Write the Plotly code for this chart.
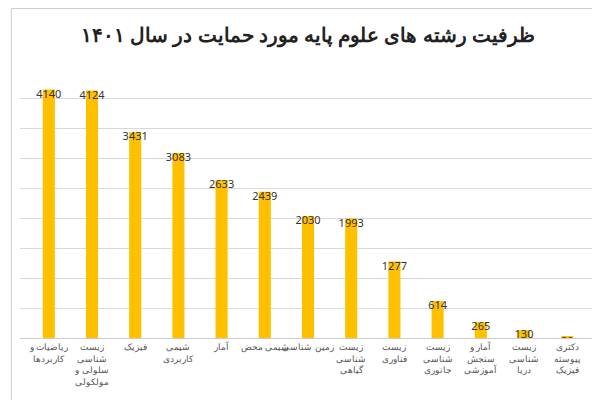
import plotly.graph_objects as go

# 13 bars; "زمین شناسی" and "شیمی محض" sit under neighbouring bars
fields = [
    "ریاضیات و<br>کاربردها",
    "زیست<br>شناسی<br>سلولی و<br>مولکولی",
    "فیزیک",
    "شیمی<br>کاربردی",
    "آمار",
    "شیمی محض",
    "زمین شناسی",
    "زیست<br>شناسی<br>گیاهی",
    "زیست<br>فناوری",
    "زیست<br>شناسی<br>جانوری",
    "آمار و<br>سنجش<br>آموزشی",
    "زیست<br>شناسی<br>دریا",
    "دکتری<br>پیوسته<br>فیزیک",
]
capacity = [4140, 4124, 3431, 3083, 2633, 2439, 2030, 1993, 1277, 614, 265, 130, 20]

fig = go.Figure()
fig.add_bar(
    x=fields, y=capacity,
    marker=dict(color="#FFC000", line=dict(width=0)),
    width=0.28, hoverinfo="x+y",
)
# value labels, horizontal, just under the bar top
fig.add_scatter(
    x=fields, y=capacity, mode="text", text=capacity,
    textposition="bottom center",
    textfont=dict(color="#333", size=11), hoverinfo="skip",
)

fig.update_layout(
    width=600, height=400,
    paper_bgcolor="white", plot_bgcolor="white",
    margin=dict(l=12, r=12, t=60, b=70),
    title=dict(text="<b>ظرفیت رشته های علوم پایه مورد حمایت در سال ۱۴۰۱</b>",
               x=0.5, y=0.95, font=dict(size=20, color="#222", family="Noto Sans")),
    font=dict(family="Noto Sans", size=9, color="#555"),
    xaxis=dict(showline=True, linecolor="#ccc", tickangle=0, ticks=""),
    yaxis=dict(range=[0, 4500], dtick=500, showticklabels=False,
               gridcolor="#d9d9d9", zeroline=False),
    showlegend=False,
    shapes=[dict(type="rect", xref="paper", yref="paper", x0=-0.015, x1=1.015,
                 y0=-0.28, y1=1.22, line=dict(color="#ccc", width=1))],
)

fig.write_html("out.html")
